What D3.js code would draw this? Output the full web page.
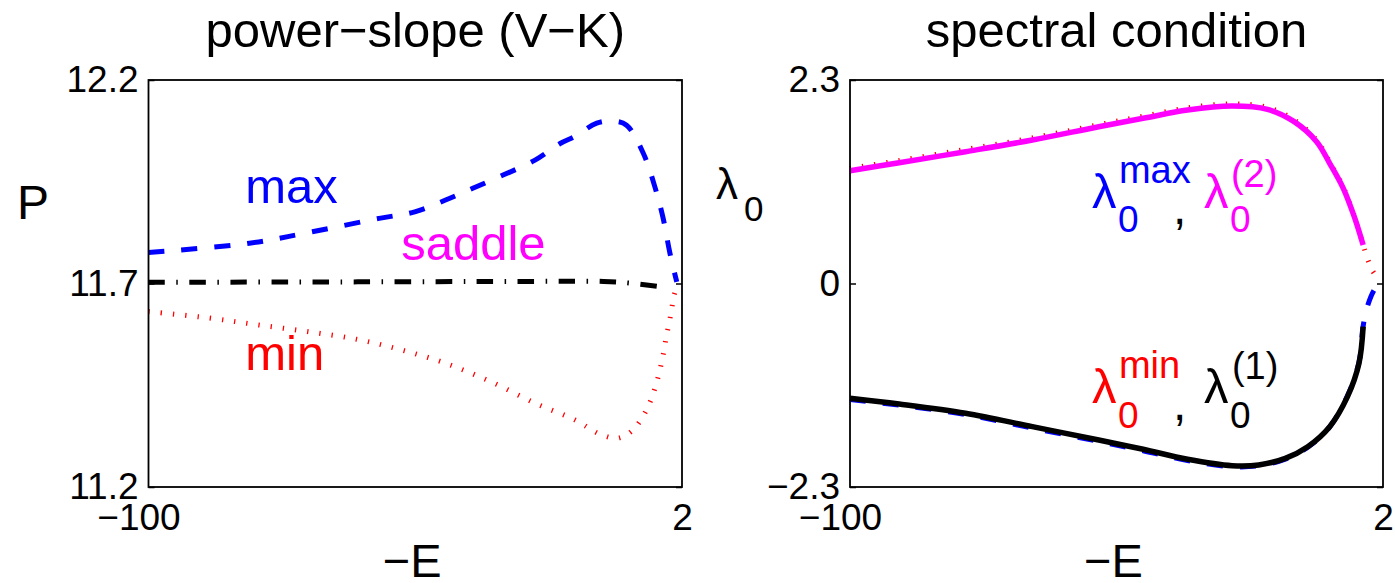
<!DOCTYPE html>
<html>
<head>
<meta charset="utf-8">
<script src="https://cdn.jsdelivr.net/npm/d3@7"></script>
<style>
  html, body { margin: 0; padding: 0; background: #fff; }
  svg { display: block; font-family: "Liberation Sans", Arial, Helvetica, sans-serif; }
</style>
</head>
<body>
<svg id="chart" width="1395" height="583"></svg>
<script>
// left panel: power-slope (V-K), x is -E
const maxE = [-100, -80.7, -68.7, -55.9, -49.1, -43.2, -38.0, -32.1, -26.1, -21.3, -18.5, -14.3, -11.1, -8.6, -5.4, -3.2, -1.6, -0.3, 1.0];
const maxP = [11.776, 11.799, 11.827, 11.860, 11.876, 11.905, 11.934, 11.967, 12.003, 12.044, 12.061, 12.094, 12.099, 12.089, 12.020, 11.938, 11.860, 11.774, 11.704];
const saddleE = [-100, -60, -30, -13, -8, -2.2];
const saddleP = [11.703, 11.704, 11.705, 11.705, 11.701, 11.692];
const minE = [-100, -88.3, -78.9, -69.6, -60.2, -51.7, -43.2, -34.6, -26.1, -18.5, -13.7, -10.3, -7.4, -4.8, -3.1, -1.8, -1.0, -0.1, 0.5, 1.2];
const minP = [11.631, 11.615, 11.598, 11.582, 11.563, 11.537, 11.504, 11.459, 11.406, 11.365, 11.330, 11.320, 11.340, 11.389, 11.446, 11.512, 11.569, 11.627, 11.672, 11.696];

// right panel: spectral condition
const upperE = [-100, -90.6, -77.9, -65.1, -52.4, -43.9, -35.4, -26.9, -20.1, -15.0, -10.7, -8.2, -5.6, -3.5, -1.8];
const lambda2 = [1.275, 1.365, 1.490, 1.622, 1.772, 1.867, 1.961, 2.006, 1.969, 1.829, 1.603, 1.358, 1.076, 0.755, 0.435];
const lambdaMinE = [-100, -90.6, -77.9, -65.1, -52.4, -43.9, -35.4, -26.9, -20.1, -15.0, -10.7, -8.2, -5.6, -3.5, -1.8, -1.0, -0.1, 1.2];
const lambdaMin = [1.30, 1.39, 1.515, 1.645, 1.795, 1.89, 1.985, 2.03, 1.99, 1.85, 1.62, 1.375, 1.09, 0.765, 0.44, 0.285, 0.153, 0.04];
const lowerE = [-100, -90.6, -77.9, -65.1, -52.4, -43.9, -35.4, -26.9, -21.8, -16.7, -12.4, -8.2, -4.8, -2.6, -1.8];
const lambda1 = [-1.297, -1.362, -1.467, -1.618, -1.769, -1.874, -1.987, -2.059, -2.051, -1.976, -1.844, -1.618, -1.279, -0.902, -0.488];
const lambdaMaxE = [-100, -90.6, -77.9, -65.1, -52.4, -43.9, -35.4, -26.9, -21.8, -16.7, -12.4, -8.2, -4.8, -2.6, -1.8, -1.0, 0.3, 1.6];
const lambdaMax = [-1.31, -1.375, -1.48, -1.635, -1.785, -1.89, -2.0, -2.07, -2.06, -1.985, -1.85, -1.62, -1.27, -0.89, -0.48, -0.262, -0.073, 0.02];

const xTicks = [-100, 2];
const pTicks = [11.2, 11.7, 12.2];
const lambdaTicks = [-2.3, 0, 2.3];

const svg = d3.select("#chart");
const plotTop = 80, plotBottom = 487;

function zip(xs, ys) {
    return xs.map((x, i) => [x, ys[i]]);
}

function drawPanel(opt) {
    const x = d3.scaleLinear().domain([-100, 2]).range([opt.left, opt.right]);
    const y = d3.scaleLinear().domain(opt.yDomain).range([plotBottom, plotTop]);
    const g = svg.append("g");

    const yAxis = d3.axisLeft(y)
        .tickValues(opt.yTicks)
        .tickSizeInner(-6)
        .tickSizeOuter(0)
        .tickPadding(10)
        .tickFormat(opt.yFormat);
    const ya = g.append("g").attr("transform", `translate(${opt.left},0)`).call(yAxis);

    const yAxisR = d3.axisRight(y)
        .tickValues(opt.yTicks)
        .tickSizeInner(-6)
        .tickSizeOuter(0)
        .tickFormat("");
    const yr = g.append("g").attr("transform", `translate(${opt.right},0)`).call(yAxisR);

    const xAxis = d3.axisBottom(x)
        .tickValues(xTicks)
        .tickSizeInner(0)
        .tickSizeOuter(0)
        .tickPadding(17)
        .tickFormat(d3.format("d"));
    const xa = g.append("g").attr("transform", `translate(0,${plotBottom})`).call(xAxis);

    [ya, yr, xa].forEach(a => {
        a.select(".domain").remove();
        a.attr("font-family", null).attr("font-size", 37);
        a.selectAll("line").attr("stroke", "#000").attr("stroke-width", 1.5);
        a.selectAll("text").attr("fill", "#000");
    });
    xa.selectAll("text").filter(d => d === -100).attr("dx", -10);

    // curves
    const line = d3.line()
        .x(d => x(d[0]))
        .y(d => y(d[1]))
        .curve(d3.curveCatmullRom.alpha(0.5));
    opt.series.forEach(s => {
        g.append("path")
            .datum(zip(s.xs, s.ys))
            .attr("d", line)
            .attr("fill", "none")
            .attr("stroke", s.color)
            .attr("stroke-width", s.width)
            .attr("stroke-dasharray", s.dash || null);
    });

    // frame
    g.append("rect")
        .attr("x", opt.left).attr("y", plotTop)
        .attr("width", opt.right - opt.left).attr("height", plotBottom - plotTop)
        .attr("fill", "none").attr("stroke", "#000").attr("stroke-width", 1.8);

    // title and x label
    const mid = (opt.left + opt.right) / 2;
    g.append("text").attr("x", mid).attr("y", 47)
        .attr("text-anchor", "middle").attr("font-size", 49).text(opt.title);
    g.append("text").attr("x", mid - 3).attr("y", 577)
        .attr("text-anchor", "middle").attr("font-size", 47).text("\u2212E");

    return { g, x, y };
}

// ---- left panel
const L = drawPanel({
    left: 148.5, right: 682,
    yDomain: [11.2, 12.2], yTicks: pTicks,
    yFormat: d3.format(".1f"),
    title: "power\u2212slope (V\u2212K)",
    series: [
        { xs: maxE, ys: maxP, color: "#0000ff", width: 5, dash: "16,17" },
        { xs: saddleE, ys: saddleP, color: "#000", width: 5, dash: "16.5,11.5,1.5,11.5" },
        { xs: minE, ys: minP, color: "#ff0000", width: 5, dash: "1.3,11" }
    ]
});
L.g.append("text").attr("x", 17).attr("y", 219).attr("font-size", 48).text("P");
L.g.append("text").attr("x", L.x(-81.5)).attr("y", L.y(11.898))
    .attr("font-size", 49).attr("fill", "#0000ff").text("max");
L.g.append("text").attr("x", L.x(-51.7)).attr("y", L.y(11.758))
    .attr("font-size", 49).attr("fill", "#ff00ff").text("saddle");
L.g.append("text").attr("x", L.x(-81.5)).attr("y", L.y(11.487))
    .attr("font-size", 49).attr("fill", "#ff0000").text("min");

// ---- right panel
const R = drawPanel({
    left: 850, right: 1383,
    yDomain: [-2.3, 2.3], yTicks: lambdaTicks,
    yFormat: d => d === 0 ? "0" : d3.format(".1f")(d),
    title: "spectral condition",
    series: [
        { xs: lambdaMinE, ys: lambdaMin, color: "#ff0000", width: 5, dash: "1.3,11" },
        { xs: upperE, ys: lambda2, color: "#ff00ff", width: 5.5 },
        { xs: lambdaMaxE, ys: lambdaMax, color: "#0000ff", width: 5, dash: "16,17" },
        { xs: lowerE, ys: lambda1, color: "#000", width: 5.5 }
    ]
});
R.g.append("text").attr("x", 716).attr("y", 199).attr("font-size", 44).text("\u03bb");
R.g.append("text").attr("x", 744).attr("y", 221).attr("font-size", 35).text("0");

// lambda labels: [lambda, sup, sub] pieces with offsets from anchor
function lambdaLabel(ax, ay, parts) {
    parts.forEach(p => {
        R.g.append("text")
            .attr("x", ax + p.dx).attr("y", ay + p.dy)
            .attr("font-size", p.size).attr("fill", p.color)
            .text(p.text);
    });
}
lambdaLabel(R.x(-53.7), R.y(0.853), [
    { text: "\u03bb", dx: 0, dy: 0, size: 49, color: "#0000ff" },
    { text: "max", dx: 27, dy: -25, size: 38, color: "#0000ff" },
    { text: "0", dx: 26, dy: 24, size: 37, color: "#0000ff" },
    { text: ",", dx: 81, dy: 16, size: 48, color: "#000" },
    { text: "\u03bb", dx: 112, dy: 0, size: 49, color: "#ff00ff" },
    { text: "(2)", dx: 139, dy: -21, size: 38, color: "#ff00ff" },
    { text: "0", dx: 138, dy: 24, size: 37, color: "#ff00ff" }
]);
lambdaLabel(R.x(-53.7), R.y(-1.351), [
    { text: "\u03bb", dx: 0, dy: 0, size: 49, color: "#ff0000" },
    { text: "min", dx: 27, dy: -25, size: 38, color: "#ff0000" },
    { text: "0", dx: 26, dy: 25, size: 37, color: "#ff0000" },
    { text: ",", dx: 81, dy: 17, size: 48, color: "#000" },
    { text: "\u03bb", dx: 112, dy: 0, size: 49, color: "#000" },
    { text: "(1)", dx: 140, dy: -24, size: 38, color: "#000" },
    { text: "0", dx: 138, dy: 25, size: 37, color: "#000" }
]);
</script>
</body>
</html>
